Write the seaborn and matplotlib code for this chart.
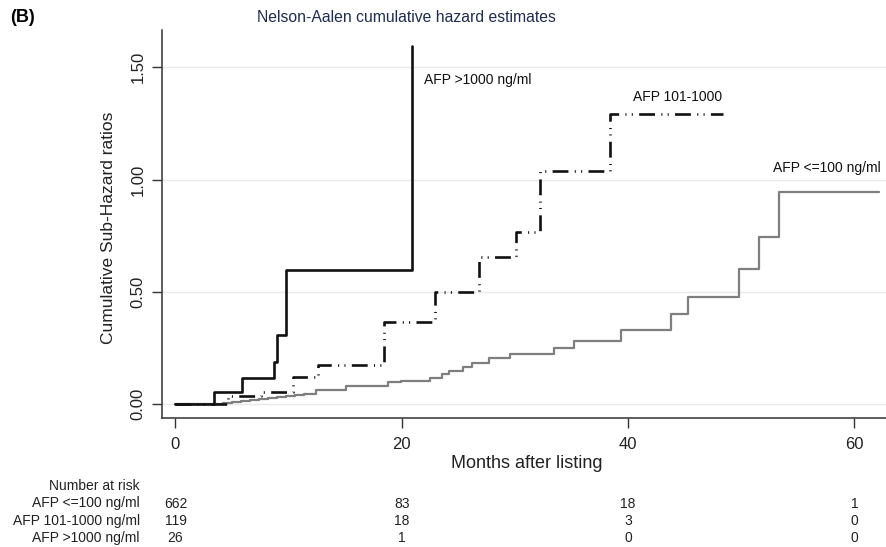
import matplotlib
matplotlib.use("Agg")
import matplotlib.pyplot as plt
import matplotlib.transforms as mtransforms
import numpy as np
import pandas as pd
import seaborn as sns

# ---------------- data ----------------
t_low = [0, 4.2, 5.0, 5.8, 6.6, 7.4, 8.2, 9.0, 9.8, 10.6, 11.4, 12.4, 15.1, 18.8,
         19.9, 22.5, 23.6, 24.2, 25.4, 26.2, 27.7, 29.6, 33.5, 35.2, 39.4, 43.8,
         45.3, 49.8, 51.6, 53.3, 62.2]
h_low = [0, 0.004, 0.009, 0.014, 0.018, 0.023, 0.027, 0.032, 0.037, 0.042, 0.047,
         0.064, 0.081, 0.098, 0.105, 0.118, 0.135, 0.148, 0.167, 0.185, 0.205,
         0.224, 0.249, 0.281, 0.330, 0.402, 0.476, 0.601, 0.743, 0.943, 0.943]

t_mid = [0, 4.6, 7.6, 10.4, 12.6, 18.4, 22.9, 26.8, 30.1, 32.2, 38.4, 48.4]
h_mid = [0, 0.038, 0.053, 0.123, 0.175, 0.368, 0.500, 0.657, 0.768, 1.038, 1.290, 1.290]

t_high = [0, 3.4, 5.85, 8.7, 8.95, 9.75, 20.9]
h_high = [0, 0.053, 0.117, 0.19, 0.31, 0.598, 1.596]

series_names = ["AFP <=100 ng/ml", "AFP 101-1000", "AFP >1000 ng/ml"]
risk_rows = ["AFP <=100 ng/ml", "AFP 101-1000 ng/ml", "AFP >1000 ng/ml"]
risk_times = [0, 20, 40, 60]
risk_low = [662, 83, 18, 1]
risk_mid = [119, 18, 3, 0]
risk_high = [26, 1, 0, 0]

x_ticks = [0, 20, 40, 60]
y_ticks = [0.0, 0.5, 1.0, 1.5]
y_ticklabels = ["0.00", "0.50", "1.00", "1.50"]

# ---------------- style ----------------
sns.set_theme(style="white")
plt.rcParams["font.family"] = ["Liberation Sans", "DejaVu Sans"]

W, H = 886, 547
fig = plt.figure(figsize=(W / 100, H / 100), dpi=100)
ax_left, ax_right, ax_top, ax_bot = 162, 886, 30, 418
ax = fig.add_axes([ax_left / W, 1 - ax_bot / H, (ax_right - ax_left) / W,
                   (ax_bot - ax_top) / H])

df_low = pd.DataFrame({"month": t_low, "hazard": h_low})
df_mid = pd.DataFrame({"month": t_mid, "hazard": h_mid})
df_high = pd.DataFrame({"month": t_high, "hazard": h_high})

sns.lineplot(data=df_low, x="month", y="hazard", ax=ax, drawstyle="steps-post",
             estimator=None, sort=False, color="#7f7f7f", lw=1.6, zorder=3)
sns.lineplot(data=df_mid, x="month", y="hazard", ax=ax, drawstyle="steps-post",
             estimator=None, sort=False, color="#111111", lw=1.9, zorder=4,
             dashes=False, linestyle=(0, (6, 2.4, 0.4, 2.0, 0.4, 2.4)))
sns.lineplot(data=df_high, x="month", y="hazard", ax=ax, drawstyle="steps-post",
             estimator=None, sort=False, color="#111111", lw=1.9, zorder=5)

ax.set_xlim(-1.19, 62.8)
ax.set_ylim(-0.061, 1.666)

ax.set_xticks(x_ticks)
ax.set_xticklabels([str(v) for v in x_ticks])
ax.set_yticks(y_ticks)
ax.set_yticklabels(y_ticklabels, rotation=90, va="center")

ax.tick_params(axis="both", which="major", direction="out", length=7, width=1,
               color="#333333", labelsize=12, labelcolor="#222222",
               bottom=True, left=True)
ax.tick_params(axis="x", pad=7)
ax.tick_params(axis="y", pad=5)

for s in ["top", "right"]:
    ax.spines[s].set_visible(False)
for s in ["left", "bottom"]:
    ax.spines[s].set_visible(True)
    ax.spines[s].set_color("#333333")
    ax.spines[s].set_linewidth(1.1)

ax.grid(axis="y", color="#e9e9e9", lw=1.0)
ax.grid(axis="x", visible=False)
ax.set_axisbelow(True)

ax.set_xlabel("Months after listing", fontsize=13, color="#222222")
ax.set_ylabel("Cumulative Sub-Hazard ratios", fontsize=12.5, color="#222222")
ax.xaxis.set_label_coords((527 - ax_left) / (ax_right - ax_left),
                          -(455 - ax_bot) / (ax_bot - ax_top))
ax.yaxis.set_label_coords(-(ax_left - 116) / (ax_right - ax_left),
                          (ax_bot - 228) / (ax_bot - ax_top))

# curve labels
ax.text(21.97, 1.443, series_names[2], fontsize=10, color="#111111",
        ha="left", va="center")
ax.text(40.45, 1.369, series_names[1], fontsize=10, color="#111111",
        ha="left", va="center")
ax.text(52.8, 1.052, series_names[0], fontsize=10, color="#111111",
        ha="left", va="center")

# title & panel letter
fig.text(10 / W, 1 - 18 / H, "(B)", fontsize=13, fontweight="bold",
         ha="left", va="center", color="#000000")
fig.text(257 / W, 1 - 17 / H, "Nelson-Aalen cumulative hazard estimates",
         fontsize=11.3, ha="left", va="center", color="#1f2d4d")

# number at risk table
blend = mtransforms.blended_transform_factory(ax.transData, fig.transFigure)
fig.text(140 / W, 1 - 486 / H, "Number at risk", fontsize=10, ha="right",
         va="center", color="#222222")
row_y = [503.5, 521, 538]
for lab, vals, ry in zip(risk_rows, [risk_low, risk_mid, risk_high], row_y):
    fig.text(140 / W, 1 - ry / H, lab, fontsize=10, ha="right", va="center",
             color="#222222")
    for tx, v in zip(risk_times, vals):
        ax.text(tx, 1 - ry / H, str(v), transform=blend, fontsize=10,
                ha="center", va="center", color="#222222", clip_on=False)

fig.savefig("out.png", dpi=100)
